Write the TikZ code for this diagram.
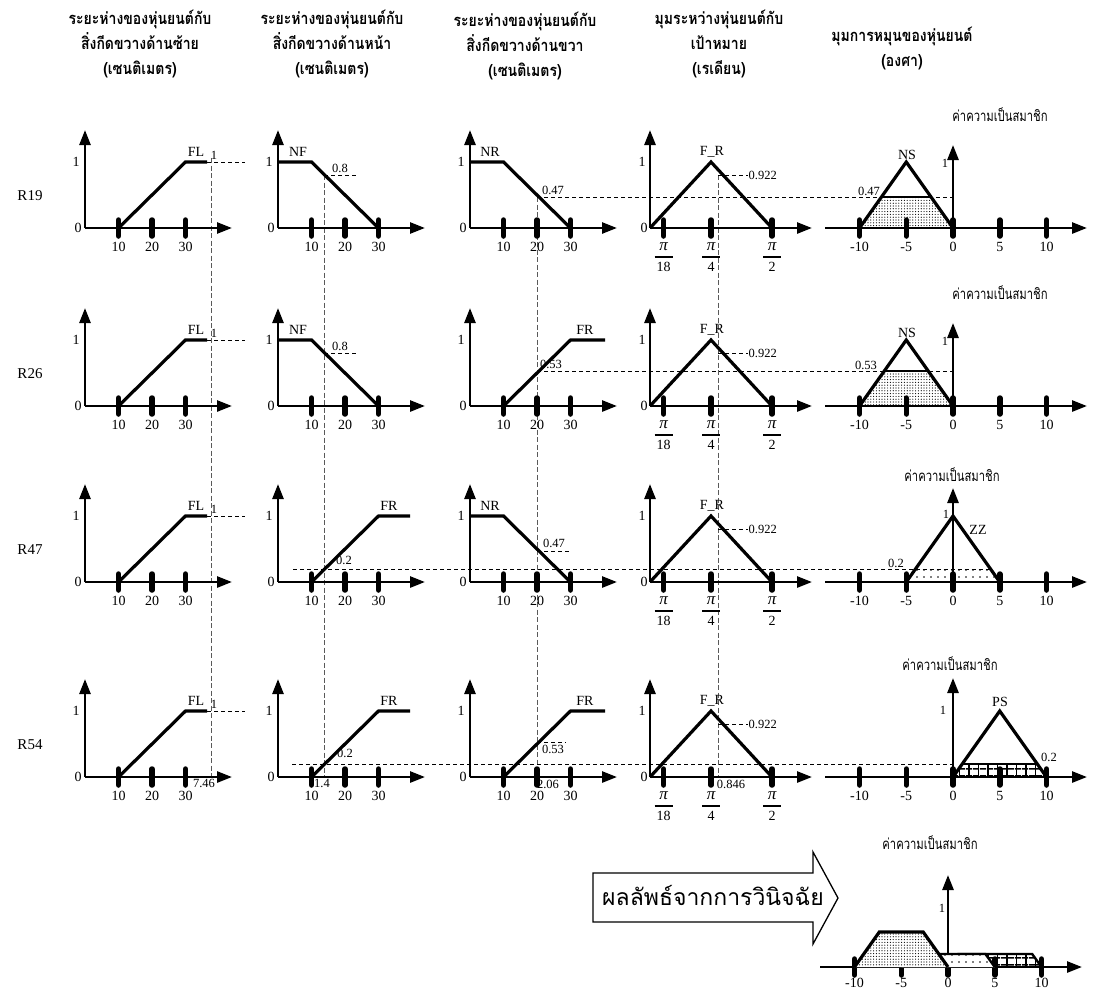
\documentclass[tikz,border=0pt]{standalone}
\usepackage{fontspec}
\setmainfont{Liberation Serif}
\newfontfamily\thaifont[Script=Thai]{Loma}
\newfontfamily\thainarrow[Script=Thai,FakeStretch=0.75]{Loma}
\newfontfamily\thaihead[Script=Thai,FakeStretch=0.85]{Loma}
\usetikzlibrary{arrows.meta,patterns.meta}

\tikzset{
  axisline/.style={line width=2.6pt,-{Triangle[length=15pt,width=11pt]}},
  tickbar/.style={line width=5.5pt,line cap=round},
  mf/.style={line width=3.2pt,line join=miter},
  guide/.style={line width=0.9pt,dash pattern=on 4pt off 3pt},
  vguide/.style={line width=0.8pt,dash pattern=on 5pt off 2.5pt,black!65},
  numlab/.style={font=\fontsize{14}{14}\selectfont,inner sep=0.5pt},
  smalllab/.style={font=\fontsize{12.5}{12.5}\selectfont,inner sep=0.5pt},
  pilab/.style={font=\itshape\fontsize{17}{17}\selectfont,inner sep=0pt},
  fracbar/.style={line width=1.8pt},
  rowlab/.style={font=\fontsize{15}{15}\selectfont,inner sep=0pt},
  headlab/.style={font=\thaihead\bfseries\fontsize{16.5}{25}\selectfont,align=center,inner sep=0pt},
  memlab/.style={font=\thainarrow\fontsize{15}{15}\selectfont,inner sep=0pt},
  arrowlab/.style={font=\thaifont\fontsize{23}{23}\selectfont,inner sep=0pt},
  densefill/.style={pattern={Dots[distance=2.8pt,radius=0.6pt]}},
  sparsefill/.style={pattern={Dots[distance=7pt,radius=0.8pt]}},
  gridfillh/.style={pattern={Lines[angle=0,distance=6.5pt,line width=1.4pt]}},
  gridfillv/.style={pattern={Lines[angle=90,distance=9.5pt,line width=1.4pt]}},
}

% distance input panel: #1 name prefix, #2 origin x, #3 axis y
\newcommand\distpanel[3]{%
  \draw[axisline] (#2,#3) -- ({#2+147},#3);
  \draw[axisline] (#2,#3) -- (#2,{#3-98});
  \foreach \k/\lbl in {1/10,2/20,3/30}{%
    \draw[tickbar] ({#2+33.5*\k},{#3-8}) -- ({#2+33.5*\k},{#3+8});
    \node[numlab] (#1t\lbl) at ({#2+33.5*\k},{#3+19}) {\lbl};
  }
  \node[numlab] (#1zero) at ({#2-7},#3) {0};
  \node[numlab] (#1one) at ({#2-9},{#3-66}) {1};
}

% angle input panel with its F_R triangle
\newcommand\anglepanel[3]{%
  \draw[axisline] (#2,#3) -- ({#2+162},#3);
  \draw[axisline] (#2,#3) -- (#2,{#3-98});
  \foreach \k/\den in {13.6/18,61/4,122/2}{%
    \draw[tickbar] ({#2+\k},{#3-8}) -- ({#2+\k},{#3+8});
    \node[pilab] (#1pi\den) at ({#2+\k},{#3+19}) {π};
    \draw[fracbar] ({#2+\k-9},{#3+29}) -- ({#2+\k+9},{#3+29});
    \node[numlab] (#1den\den) at ({#2+\k},{#3+39}) {\den};
  }
  \node[numlab] (#1zero) at ({#2-6},#3) {0};
  \node[numlab] (#1one) at ({#2-8},{#3-66}) {1};
  \draw[guide] ({#2+68},{#3-53}) -- ({#2+98},{#3-53});
  \draw[mf] (#2,#3) -- ({#2+61},{#3-66}) -- ({#2+122},#3);
  \node[numlab] (#1name) at ({#2+62},{#3-76}) {F\_R};
  \node[smalllab,anchor=west] (#1cut) at ({#2+98},{#3-53}) {0.922};
}

% output panel axes: #1 prefix, #2 x of zero, #3 axis y, #4 height of vertical axis, #5 label offset
\newcommand\outpanel[5]{%
  \draw[axisline] ({#2-128},#3) -- ({#2+134},#3);
  \draw[axisline] (#2,#3) -- (#2,{#3-#4});
  \foreach \k in {-10,-5,0,5,10}{%
    \draw[tickbar] ({#2+9.35*(\k)},{#3-8}) -- ({#2+9.35*(\k)},{#3+8});
    \node[numlab] (#1t\k) at ({#2+9.35*(\k)},{#3+#5}) {\k};
  }
}

\begin{document}
\begin{tikzpicture}[x=1pt,y=-1pt]
\useasboundingbox (0,0) rectangle (1097,990);

% ---------- column headings
\node[headlab] (head1) at (140,44) {ระยะห่างของหุ่นยนต์กับ\\สิ่งกีดขวางด้านซ้าย\\(เซนติเมตร)};
\node[headlab] (head2) at (332,44) {ระยะห่างของหุ่นยนต์กับ\\สิ่งกีดขวางด้านหน้า\\(เซนติเมตร)};
\node[headlab] (head3) at (525,46) {ระยะห่างของหุ่นยนต์กับ\\สิ่งกีดขวางด้านขวา\\(เซนติเมตร)};
\node[headlab] (head4) at (719,44) {มุมระหว่างหุ่นยนต์กับ\\เป้าหมาย\\(เรเดียน)};
\node[headlab] (head5) at (902,48) {มุมการหมุนของหุ่นยนต์\\(องศา)};

% ---------- rule labels
\node[rowlab] (r19) at (30,196) {R19};
\node[rowlab] (r26) at (30,374) {R26};
\node[rowlab] (r47) at (30,550) {R47};
\node[rowlab] (r54) at (30,745) {R54};

% ---------- reading lines through all rules
\draw[vguide] (211,158) -- (211,777);
\draw[vguide] (324,175) -- (324,777);
\draw[vguide] (537,197) -- (537,777);
\draw[vguide] (718,175) -- (718,777);
\draw[guide] (537,197) -- (953,197);
\draw[guide] (537,371) -- (953,371);
\draw[guide] (293,569) -- (916,569);
\draw[guide] (292,764) -- (953,764);

% ---------- R19
\distpanel{aL}{85}{228}
\draw[mf] (118.5,228) -- (185.5,162) -- (207,162);
\draw[guide] (207,162) -- (245,162);
\node[numlab] (aLname) at (196,152) {FL};
\node[smalllab] (aLcut) at (214,155) {1};

\distpanel{aF}{278}{228}
\draw[guide] (324,175) -- (356,175);
\draw[mf] (278,162) -- (311.5,162) -- (378.5,228);
\node[numlab] (aFname) at (298,152) {NF};
\node[smalllab] (aFcut) at (340,168) {0.8};

\distpanel{aR}{470}{228}
\draw[mf] (470,162) -- (503.5,162) -- (570.5,228);
\node[numlab] (aRname) at (490,152) {NR};
\node[smalllab] (aRcut) at (553,190) {0.47};

\anglepanel{aT}{650}{228}

\outpanel{aO}{953}{228}{83}{19}
\fill[densefill] (859.5,228) -- (881.5,197) -- (931,197) -- (953,228) -- cycle;
\draw[line width=2pt] (881.5,197) -- (931,197);
\draw[mf] (859.5,228) -- (906.25,162) -- (953,228);
\node[numlab] (aOname) at (907,155) {NS};
\node[smalllab] (aOcut) at (869,191) {0.47};
\node[smalllab] (aOone) at (945,163) {1};
\node[memlab] (aOtitle) at (1000,115) {ค่าความเป็นสมาชิก};

% ---------- R26
\distpanel{bL}{85}{406}
\draw[mf] (118.5,406) -- (185.5,340) -- (207,340);
\draw[guide] (207,340) -- (245,340);
\node[numlab] (bLname) at (196,330) {FL};
\node[smalllab] (bLcut) at (214,333) {1};

\distpanel{bF}{278}{406}
\draw[guide] (324,353) -- (356,353);
\draw[mf] (278,340) -- (311.5,340) -- (378.5,406);
\node[numlab] (bFname) at (298,330) {NF};
\node[smalllab] (bFcut) at (340,346) {0.8};

\distpanel{bR}{470}{406}
\draw[mf] (503.5,406) -- (570.5,340) -- (605,340);
\node[numlab] (bRname) at (585,330) {FR};
\node[smalllab] (bRcut) at (551,364) {0.53};

\anglepanel{bT}{650}{406}

\outpanel{bO}{953}{406}{83}{19}
\fill[densefill] (859.5,406) -- (884.3,371) -- (928.2,371) -- (953,406) -- cycle;
\draw[line width=2pt] (884.3,371) -- (928.2,371);
\draw[mf] (859.5,406) -- (906.25,340) -- (953,406);
\node[numlab] (bOname) at (907,333) {NS};
\node[smalllab] (bOcut) at (866,365) {0.53};
\node[smalllab] (bOone) at (945,341) {1};
\node[memlab] (bOtitle) at (1000,293) {ค่าความเป็นสมาชิก};

% ---------- R47
\distpanel{cL}{85}{582}
\draw[mf] (118.5,582) -- (185.5,516) -- (207,516);
\draw[guide] (207,516) -- (245,516);
\node[numlab] (cLname) at (196,506) {FL};
\node[smalllab] (cLcut) at (214,509) {1};

\distpanel{cF}{278}{582}
\draw[mf] (311.5,582) -- (378.5,516) -- (410,516);
\node[numlab] (cFname) at (389,506) {FR};
\node[smalllab] (cFcut) at (344,560) {0.2};

\distpanel{cR}{470}{582}
\draw[guide] (537,551) -- (570,551);
\draw[mf] (470,516) -- (503.5,516) -- (570.5,582);
\node[numlab] (cRname) at (490,506) {NR};
\node[smalllab] (cRcut) at (554,543) {0.47};

\anglepanel{cT}{650}{582}

\outpanel{cO}{953}{582}{94}{19}
\fill[sparsefill] (906.25,582) -- (915.6,569) -- (990.4,569) -- (999.75,582) -- cycle;
\draw[guide] (915.6,569) -- (990.4,569);
\draw[mf] (906.25,582) -- (953,516) -- (999.75,582);
\node[numlab] (cOname) at (978,530) {ZZ};
\node[smalllab] (cOcut) at (896,563) {0.2};
\node[smalllab] (cOone) at (946,514) {1};
\node[memlab] (cOtitle) at (952,475) {ค่าความเป็นสมาชิก};

% ---------- R54
\distpanel{dL}{85}{777}
\draw[mf] (118.5,777) -- (185.5,711) -- (207,711);
\draw[guide] (207,711) -- (245,711);
\node[numlab] (dLname) at (196,701) {FL};
\node[smalllab] (dLcut) at (214,704) {1};

\distpanel{dF}{278}{777}
\draw[mf] (311.5,777) -- (378.5,711) -- (410,711);
\node[numlab] (dFname) at (389,701) {FR};
\node[smalllab] (dFcut) at (345,753) {0.2};

\distpanel{dR}{470}{777}
\draw[guide] (537,742) -- (566,742);
\draw[mf] (503.5,777) -- (570.5,711) -- (605,711);
\node[numlab] (dRname) at (585,701) {FR};
\node[smalllab] (dRcut) at (553,749) {0.53};

\anglepanel{dT}{650}{777}

\outpanel{dO}{953}{777}{99}{19}
\fill[gridfillh] (953,777) -- (962.35,764) -- (1037.15,764) -- (1046.5,777) -- cycle;
\fill[gridfillv] (953,777) -- (962.35,764) -- (1037.15,764) -- (1046.5,777) -- cycle;
\draw[line width=2pt] (962.35,764) -- (1037.15,764);
\draw[mf] (953,777) -- (999.75,711) -- (1046.5,777);
\node[numlab] (dOname) at (1000,702) {PS};
\node[smalllab] (dOcut) at (1049,757) {0.2};
\node[smalllab] (dOone) at (943,710) {1};
\node[memlab] (dOtitle) at (950,664) {ค่าความเป็นสมาชิก};

% crisp values read off the rule R54
\node[smalllab,anchor=north] (crispL) at (204,779) {7.46};
\node[smalllab,anchor=north] (crispF) at (322,779) {1.4};
\node[smalllab,anchor=north] (crispR) at (548,779) {2.06};
\node[smalllab,anchor=north] (crispT) at (731,779) {0.846};

% ---------- aggregated output
\draw[line width=1.3pt,line join=miter] (593,873) -- (813,873) -- (813,852) -- (838,898) -- (813,944) -- (813,922) -- (593,922) -- cycle;
\node[arrowlab] (verdict) at (713,895) {ผลลัพธ์จากการวินิจฉัย};

\outpanel{eO}{948}{967}{92}{16}
\fill[gridfillh] (948,967) -- (957.35,954) -- (1032.15,954) -- (1041.5,967) -- cycle;
\fill[gridfillv] (948,967) -- (957.35,954) -- (1032.15,954) -- (1041.5,967) -- cycle;
\draw[line width=2.4pt,line join=miter] (957.35,954) -- (1032.15,954) -- (1041.5,967);
\fill[white] (901.25,967) -- (910.6,954) -- (985.4,954) -- (994.75,967) -- cycle;
\fill[sparsefill] (901.25,967) -- (910.6,954) -- (985.4,954) -- (994.75,967) -- cycle;
\draw[line width=2.4pt,line join=miter] (910.6,954) -- (985.4,954) -- (994.75,967);
\fill[white] (854.5,967) -- (879.3,932) -- (923.2,932) -- (948,967) -- cycle;
\fill[densefill] (854.5,967) -- (879.3,932) -- (923.2,932) -- (948,967) -- cycle;
\draw[mf] (854.5,967) -- (879.3,932) -- (923.2,932) -- (948,967);
\node[smalllab] (eOone) at (942,908) {1};
\node[memlab] (eOtitle) at (930,843) {ค่าความเป็นสมาชิก};

\end{tikzpicture}
\end{document}
